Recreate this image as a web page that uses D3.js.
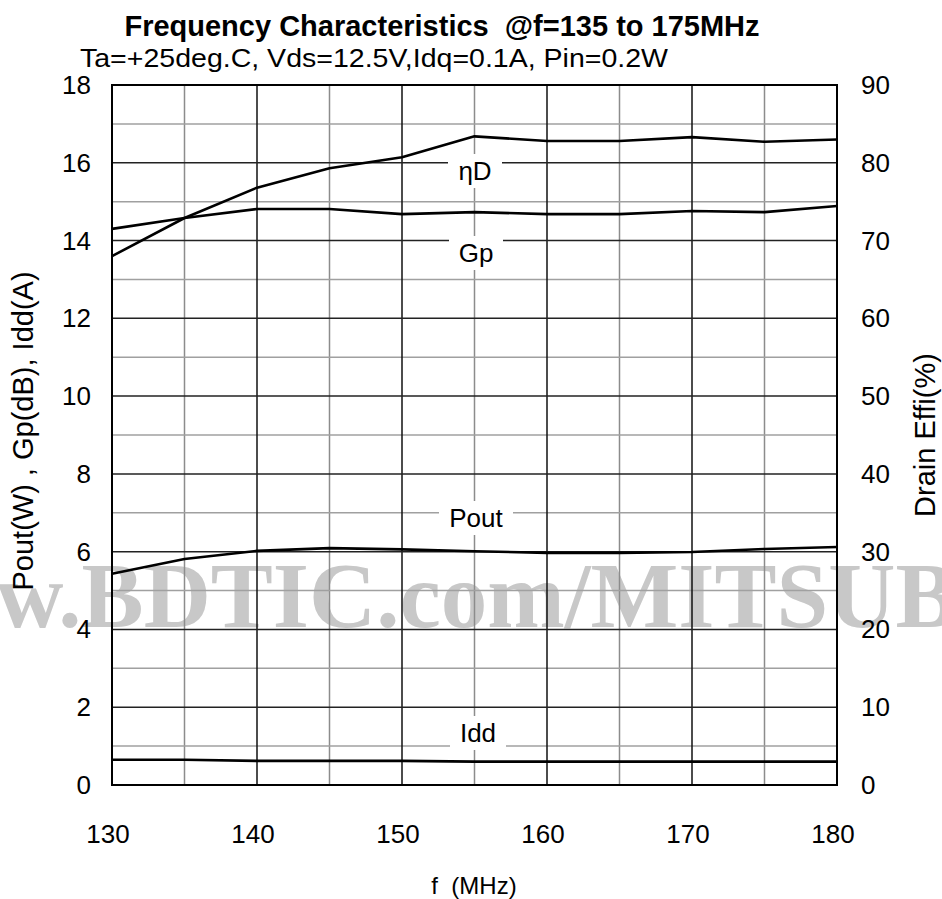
<!DOCTYPE html>
<html>
<head>
<meta charset="utf-8">
<script src="https://cdn.jsdelivr.net/npm/d3@7"></script>
<style>
  body { margin: 0; background: #fff; }
  text { font-family: Arial, "Liberation Sans", sans-serif; fill: #000; }
</style>
</head>
<body>
<svg id="chart" width="942" height="899"></svg>
<script>
// frequency (MHz)
var freq = [130, 135, 140, 145, 150, 155, 160, 165, 170, 175, 180];
// gain (dB), left axis
var gp = [14.30, 14.58, 14.81, 14.81, 14.68, 14.73, 14.68, 14.68, 14.76, 14.73, 14.89];
// drain efficiency (%), right axis
var effD = [68.0, 72.9, 76.8, 79.3, 80.7, 83.4, 82.8, 82.8, 83.3, 82.7, 83.0];
// output power (W), left axis
var pout = [5.43, 5.81, 6.02, 6.09, 6.06, 6.01, 5.97, 5.97, 5.99, 6.07, 6.12];
// drain current (A), left axis
var idd = [0.65, 0.65, 0.62, 0.62, 0.62, 0.60, 0.60, 0.60, 0.60, 0.60, 0.60];

var xTicks = [130, 140, 150, 160, 170, 180];
var leftTicks = [0, 2, 4, 6, 8, 10, 12, 14, 16, 18];
var rightTicks = [0, 10, 20, 30, 40, 50, 60, 70, 80, 90];

var plot = { left: 112, right: 837, top: 85, bottom: 785 };

var x = d3.scaleLinear().domain([130, 180]).range([plot.left, plot.right]);
var yL = d3.scaleLinear().domain([0, 18]).range([plot.bottom, plot.top]);
var yR = d3.scaleLinear().domain([0, 90]).range([plot.bottom, plot.top]);

var svg = d3.select('#chart');

// watermark (behind the grid)
svg.append('text')
  .attr('x', -138)
  .attr('y', 627)
  .style('font-family', '"Liberation Serif", "Times New Roman", serif')
  .style('font-weight', 'bold')
  .style('font-size', '93px')
  .style('fill', '#c8c8c8')
  .text('www.BDTIC.com/MITSUBISHI');

var g = svg.append('g');

// minor grid
g.selectAll('.vminor')
  .data(d3.range(135, 180, 10))
  .enter().append('line')
  .attr('x1', function(d) { return x(d); })
  .attr('x2', function(d) { return x(d); })
  .attr('y1', plot.top).attr('y2', plot.bottom)
  .attr('stroke', '#8c8c8c').attr('stroke-width', 1.5);

g.selectAll('.hminor')
  .data(d3.range(1, 18, 2))
  .enter().append('line')
  .attr('x1', plot.left).attr('x2', plot.right)
  .attr('y1', function(d) { return yL(d); })
  .attr('y2', function(d) { return yL(d); })
  .attr('stroke', '#a0a0a0').attr('stroke-width', 1.5);

// major grid
g.selectAll('.vmajor')
  .data(xTicks.slice(1, -1))
  .enter().append('line')
  .attr('x1', function(d) { return x(d); })
  .attr('x2', function(d) { return x(d); })
  .attr('y1', plot.top).attr('y2', plot.bottom)
  .attr('stroke', '#111').attr('stroke-width', 1.5);

g.selectAll('.hmajor')
  .data(leftTicks.slice(1, -1))
  .enter().append('line')
  .attr('x1', plot.left).attr('x2', plot.right)
  .attr('y1', function(d) { return yL(d); })
  .attr('y2', function(d) { return yL(d); })
  .attr('stroke', '#222').attr('stroke-width', 1.5);

// frame
g.append('rect')
  .attr('x', plot.left).attr('y', plot.top)
  .attr('width', plot.right - plot.left)
  .attr('height', plot.bottom - plot.top)
  .attr('fill', 'none').attr('stroke', '#000').attr('stroke-width', 2);

// curves
function curve(values, scale) {
  return d3.line()
    .x(function(d, i) { return x(freq[i]); })
    .y(function(d) { return scale(d); })(values);
}

[[effD, yR], [gp, yL], [pout, yL], [idd, yL]].forEach(function(s) {
  g.append('path')
    .attr('d', curve(s[0], s[1]))
    .attr('fill', 'none')
    .attr('stroke', '#000')
    .attr('stroke-width', 2.6)
    .attr('stroke-linejoin', 'round');
});

// series labels with white boxes
var labels = [
  { name: 'ηD', x: 475, y: 171, w: 54 },
  { name: 'Gp', x: 476, y: 253, w: 54 },
  { name: 'Pout', x: 476, y: 518, w: 74 },
  { name: 'Idd', x: 478, y: 733, w: 56 }
];
labels.forEach(function(l) {
  g.append('rect')
    .attr('x', l.x - l.w / 2).attr('y', l.y - 17)
    .attr('width', l.w).attr('height', 34)
    .attr('fill', '#fff');
  g.append('text')
    .attr('x', l.x).attr('y', l.y)
    .attr('text-anchor', 'middle')
    .attr('dominant-baseline', 'central')
    .style('font-size', '26px')
    .text(l.name);
});

// tick labels
svg.selectAll('.lt')
  .data(leftTicks)
  .enter().append('text')
  .attr('x', 91)
  .attr('y', function(d) { return yL(d); })
  .attr('text-anchor', 'end')
  .attr('dominant-baseline', 'central')
  .style('font-size', '26px')
  .text(function(d) { return d; });

svg.selectAll('.rt')
  .data(rightTicks)
  .enter().append('text')
  .attr('x', 861)
  .attr('y', function(d) { return yR(d); })
  .attr('text-anchor', 'start')
  .attr('dominant-baseline', 'central')
  .style('font-size', '26px')
  .text(function(d) { return d; });

svg.selectAll('.xt')
  .data(xTicks)
  .enter().append('text')
  .attr('x', function(d) { return x(d) - 4; })
  .attr('y', 843)
  .attr('text-anchor', 'middle')
  .style('font-size', '26px')
  .text(function(d) { return d; });

// titles
svg.append('text')
  .attr('x', 442).attr('y', 36)
  .attr('text-anchor', 'middle')
  .style('font-size', '29px')
  .style('font-weight', 'bold')
  .text('Frequency Characteristics\u00a0\u00a0@f=135 to 175MHz');

svg.append('text')
  .attr('x', 80).attr('y', 67)
  .style('font-size', '26px')
  .attr('textLength', 588)
  .attr('lengthAdjust', 'spacingAndGlyphs')
  .text('Ta=+25deg.C, Vds=12.5V,Idq=0.1A, Pin=0.2W');

svg.append('text')
  .attr('x', 474).attr('y', 894)
  .attr('text-anchor', 'middle')
  .style('font-size', '24px')
  .text('f\u00a0\u00a0(MHz)');

svg.append('text')
  .attr('transform', 'translate(33,431) rotate(-90)')
  .attr('text-anchor', 'middle')
  .style('font-size', '29px')
  .text('Pout(W) , Gp(dB), Idd(A)');

svg.append('text')
  .attr('transform', 'translate(935,435) rotate(-90)')
  .attr('text-anchor', 'middle')
  .style('font-size', '29px')
  .text('Drain Effi(%)');
</script>
</body>
</html>
